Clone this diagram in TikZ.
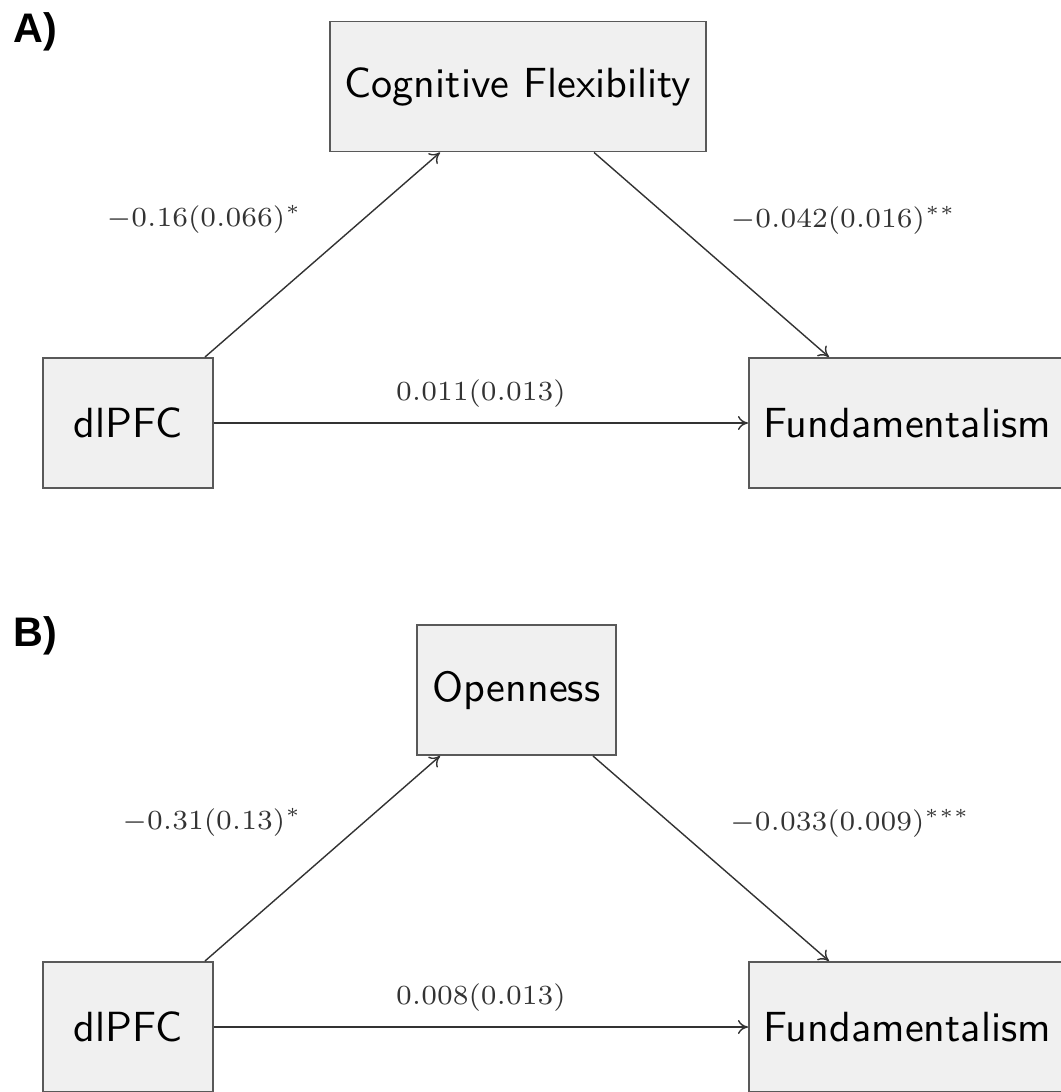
\documentclass[tikz,border=0pt]{standalone}
\usepackage{fontspec}
\usepackage{graphicx}
\usetikzlibrary{arrows.meta,positioning}
\newfontfamily\boxfont{lmsans10-regular.otf}
\newfontfamily\panelfont{Liberation Sans}
\newcommand{\coef}[1]{\scalebox{2.25}{\fontsize{7}{8}\selectfont$#1$}}
\tikzset{%
    var/.style    = {draw=black!65, line width=1.1pt, fill=black!6, rectangle,
        minimum height=2.6cm, font=\boxfont\fontsize{24}{28}\selectfont},
    effect/.style = {draw=black!80, line width=0.8pt, -{To[length=2mm,width=2.8mm]}},
    coef/.style   = {inner sep=0pt, text=black!80},
    panel/.style  = {font=\panelfont\bfseries\fontsize{23.5}{27}\selectfont,
        inner sep=0pt, anchor=base west},
}

\begin{document}
\begin{tikzpicture}
    \useasboundingbox (0,0) rectangle (21.22,-21.84);
    % A) cognitive flexibility as mediator
    \node [panel] (labA) at (0.26,-0.84) {A)};
    \node [var, minimum width=7.52cm] (cog) at (10.36,-1.73) {Cognitive Flexibility};
    \node [var, minimum width=3.4cm] (dlpfcA) at (2.56,-8.46) {dlPFC};
    \node [var, minimum width=6.32cm, right=10.68cm of dlpfcA] (fundA) {Fundamentalism};

    \draw [effect] ([xshift=-0.18cm]dlpfcA.north east) -- node [coef, anchor=south east, xshift=-0.4cm, yshift=0.42cm] {\coef{-0.16(0.066)^{*}}} ([xshift=2.22cm]cog.south west);
    \draw [effect] ([xshift=5.3cm]cog.south west) -- node [coef, anchor=south west, xshift=0.37cm, yshift=0.4cm] {\coef{-0.042(0.016)^{**}}} ([xshift=1.62cm]fundA.north west);
    \draw [effect] (dlpfcA) -- node [coef, anchor=south, yshift=0.3cm] {\coef{0.011(0.013)}} (fundA);

    % B) openness as mediator
    \node [panel] (labB) at (0.26,-12.92) {B)};
    \node [var, minimum width=3.98cm] (open) at (10.33,-13.8) {Openness};
    \node [var, minimum width=3.4cm] (dlpfcB) at (2.56,-20.54) {dlPFC};
    \node [var, minimum width=6.32cm, right=10.68cm of dlpfcB] (fundB) {Fundamentalism};

    \draw [effect] ([xshift=-0.18cm]dlpfcB.north east) -- node [coef, anchor=south east, xshift=-0.4cm, yshift=0.42cm] {\coef{-0.31(0.13)^{*}}} ([xshift=0.48cm]open.south west);
    \draw [effect] ([xshift=-0.48cm]open.south east) -- node [coef, anchor=south west, xshift=0.37cm, yshift=0.4cm] {\coef{-0.033(0.009)^{***}}} ([xshift=1.62cm]fundB.north west);
    \draw [effect] (dlpfcB) -- node [coef, anchor=south, yshift=0.3cm] {\coef{0.008(0.013)}} (fundB);
\end{tikzpicture}
\end{document}
